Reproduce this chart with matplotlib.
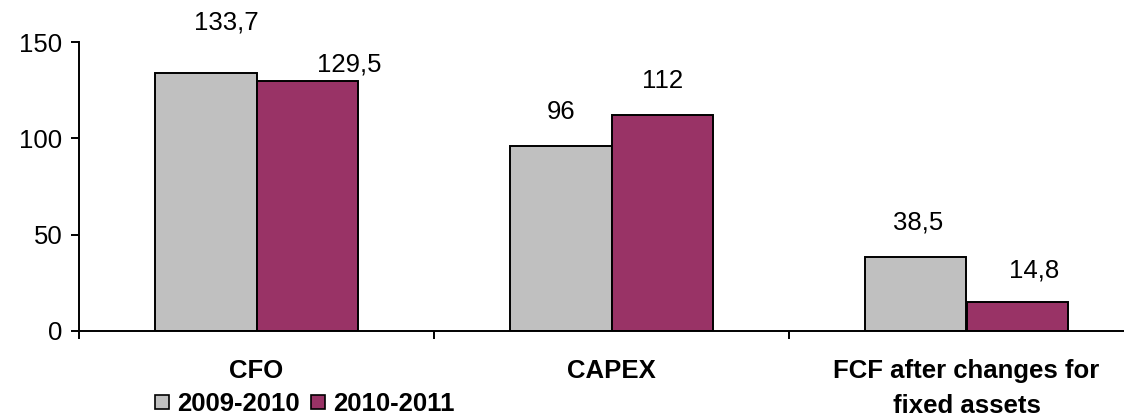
import matplotlib
matplotlib.use("Agg")
import matplotlib.pyplot as plt
from matplotlib.lines import Line2D
import numpy as np

categories = ["CFO", "CAPEX", "FCF after changes for\nfixed assets"]
series_names = ["2009-2010", "2010-2011"]
values_2009_2010 = [133.7, 96, 38.5]
values_2010_2011 = [129.5, 112, 14.8]
y_ticks = [0, 50, 100, 150]

colors = ["#C0C0C0", "#993366"]
# label offsets in pixels (dx, dy above bar top) per series
label_off = [[(20, 51), (0, 34), (2, 34)],
             [(42, 17), (0, 34), (17, 32)]]

plt.rcParams['font.family'] = ['Liberation Sans', 'DejaVu Sans']
DPI = 100
FS = 18.5
fig = plt.figure(figsize=(11.24, 4.18), dpi=DPI)
ax = fig.add_axes([79/1124, 87/418, 1065/1124, 289/418])

x = np.arange(len(categories))
w = 0.285
series = [values_2009_2010, values_2010_2011]
for i, vals in enumerate(series):
    pos = x + (i - 0.5) * w
    ax.bar(pos, vals, width=w, color=colors[i], edgecolor="black", linewidth=1.4, zorder=2)
    for j, (p, v) in enumerate(zip(pos, vals)):
        dx, dy = label_off[i][j]
        ax.annotate(f"{v:g}".replace(".", ","), xy=(p, v), xytext=(dx*72/DPI, dy*72/DPI),
                    textcoords="offset points", ha="center", va="center", fontsize=FS)

ax.set_xlim(-0.5, len(categories) - 0.5)
ax.set_ylim(0, 150)
ax.set_yticks(y_ticks)
ax.tick_params(axis="y", length=6, width=1.4, labelsize=FS, pad=6)
ax.set_xticks(x)
ax.set_xticklabels(categories, fontweight="bold", fontsize=FS, linespacing=1.6)
ax.tick_params(axis="x", which="major", length=0, pad=20)
ax.set_xticks(np.arange(-0.5, len(categories)), minor=True)
ax.tick_params(axis="x", which="minor", length=6, width=1.4, direction="out")
for s in ["top", "right"]:
    ax.spines[s].set_visible(False)
for s in ["left", "bottom"]:
    ax.spines[s].set_linewidth(1.4)

handles = [Line2D([], [], linestyle="none", marker="s", markersize=10,
                  markerfacecolor=c, markeredgecolor="black", markeredgewidth=1.2)
           for c in colors]
fig.legend(handles, series_names, loc="center left", bbox_to_anchor=(154/1124, 1 - 404/418),
           ncol=2, frameon=False, prop={"weight": "bold", "size": FS},
           handlelength=0.6, handletextpad=0.3, columnspacing=0.4, borderpad=0, borderaxespad=0)

fig.savefig("out.png", dpi=DPI)
